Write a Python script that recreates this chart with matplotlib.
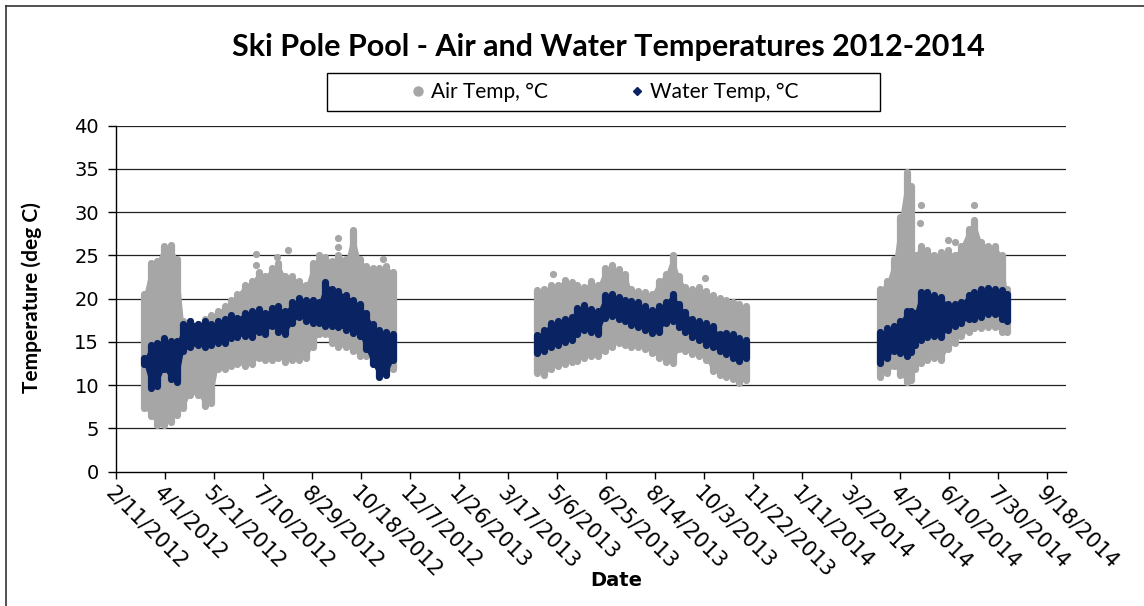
import matplotlib
matplotlib.use("Agg")
import matplotlib.pyplot as plt
import matplotlib.dates as mdates
from matplotlib.lines import Line2D
from matplotlib.patches import Rectangle
import pandas as pd

# ---------------------------------------------------------------- data
# Weekly envelopes of the logged readings (lowest / highest value, deg C)
season1_dates = ["2012-03-11", "2012-03-18", "2012-03-24", "2012-03-31", "2012-04-07",
                 "2012-04-14", "2012-04-20", "2012-04-27", "2012-05-05", "2012-05-12",
                 "2012-05-18", "2012-05-25", "2012-06-01", "2012-06-08", "2012-06-14",
                 "2012-06-22", "2012-06-29", "2012-07-06", "2012-07-12", "2012-07-19",
                 "2012-07-26", "2012-08-02", "2012-08-09", "2012-08-16", "2012-08-23",
                 "2012-08-30", "2012-09-05", "2012-09-12", "2012-09-19", "2012-09-25",
                 "2012-10-03", "2012-10-10", "2012-10-17", "2012-10-23", "2012-10-30",
                 "2012-11-06", "2012-11-13", "2012-11-20"]
season1_air_low = [7.4, 6.4, 5.4, 5.4, 5.7, 6.6, 7.4, 8.9, 8.9, 7.6,
                   7.9, 11.9, 11.9, 12.2, 12.4, 12.2, 12.4, 13.2, 12.9, 12.9,
                   13.2, 12.7, 12.9, 12.9, 13.2, 14.4, 15.9, 15.9, 14.9, 14.4,
                   14.4, 13.9, 13.4, 13.4, 12.9, 12.4, 11.9, 11.9]
season1_air_high = [20.6, 24.1, 24.4, 26.1, 26.2, 24.6, 17.4, 17.4, 17.1, 17.6,
                    18.1, 18.6, 19.1, 19.9, 20.6, 21.6, 22.1, 23.1, 22.6, 23.6,
                    24.1, 22.6, 22.6, 22.1, 21.6, 24.1, 24.6, 24.8, 24.4, 25.1,
                    24.6, 27.9, 24.6, 23.8, 23.6, 23.6, 23.8, 23.1]
season1_water_low = [12.4, 9.7, 9.9, 11.9, 10.7, 10.4, 13.9, 14.4, 14.6, 14.4,
                     14.7, 14.9, 14.9, 15.4, 15.6, 15.7, 15.6, 16.2, 15.9, 16.9,
                     16.2, 15.9, 17.2, 17.9, 17.4, 17.2, 17.2, 16.9, 16.9, 16.7,
                     16.4, 16.0, 15.7, 14.2, 12.4, 10.9, 11.2, 12.9]
season1_water_high = [13.1, 14.6, 14.9, 15.4, 15.1, 15.1, 17.1, 17.4, 17.1, 17.4,
                      17.1, 17.4, 17.6, 18.1, 17.8, 18.4, 18.6, 18.8, 18.4, 18.9,
                      19.1, 18.6, 19.6, 20.1, 19.9, 19.9, 19.6, 21.9, 21.1, 20.9,
                      20.4, 19.9, 19.4, 18.4, 17.1, 16.4, 16.1, 15.9]

season2_dates = ["2013-04-16", "2013-04-23", "2013-04-30", "2013-05-07", "2013-05-14",
                 "2013-05-21", "2013-05-27", "2013-06-03", "2013-06-10", "2013-06-17",
                 "2013-06-24", "2013-07-01", "2013-07-08", "2013-07-15", "2013-07-21",
                 "2013-07-28", "2013-08-04", "2013-08-11", "2013-08-18", "2013-08-25",
                 "2013-09-01", "2013-09-08", "2013-09-14", "2013-09-21", "2013-09-28",
                 "2013-10-05", "2013-10-12", "2013-10-19", "2013-10-26", "2013-11-02",
                 "2013-11-08", "2013-11-15"]
season2_air_low = [11.4, 11.2, 11.9, 12.2, 12.4, 12.7, 12.8, 13.2, 13.4, 13.4,
                   13.9, 14.4, 14.9, 14.7, 14.4, 14.4, 14.2, 13.7, 13.2, 12.7,
                   12.6, 14.2, 13.9, 13.6, 13.4, 12.9, 11.6, 11.2, 11.0, 10.7,
                   10.2, 10.6]
season2_air_high = [21.0, 21.1, 21.6, 21.6, 22.2, 21.9, 21.6, 21.4, 22.0, 21.6,
                    23.6, 23.9, 23.4, 22.9, 21.1, 20.9, 20.8, 20.6, 22.1, 22.9,
                    25.1, 22.6, 21.4, 21.1, 21.4, 20.9, 20.4, 20.1, 19.8, 19.6,
                    19.4, 19.1]
season2_water_low = [13.7, 13.9, 14.4, 14.7, 15.0, 15.2, 15.9, 16.4, 16.2, 15.9,
                     17.8, 18.0, 17.6, 17.4, 17.0, 16.7, 16.4, 16.0, 16.2, 17.2,
                     17.4, 16.7, 16.2, 15.6, 15.2, 14.7, 14.4, 13.9, 13.6, 13.2,
                     12.8, 13.2]
season2_water_high = [15.8, 16.4, 17.2, 17.4, 17.6, 17.9, 18.9, 19.3, 18.8, 18.6,
                      20.4, 20.6, 20.2, 19.9, 19.7, 19.6, 19.1, 18.7, 19.1, 19.6,
                      20.6, 19.4, 18.5, 17.6, 17.4, 17.2, 16.9, 15.9, 16.0, 15.9,
                      15.4, 15.2]

season3_dates = ["2014-04-01", "2014-04-08", "2014-04-15", "2014-04-21", "2014-04-28",
                 "2014-05-02", "2014-05-06", "2014-05-12", "2014-05-19", "2014-05-26",
                 "2014-06-02", "2014-06-09", "2014-06-16", "2014-06-22", "2014-06-30",
                 "2014-07-06", "2014-07-13", "2014-07-20", "2014-07-27", "2014-08-03",
                 "2014-08-08"]
season3_air_low = [10.9, 11.4, 12.2, 11.2, 10.4, 10.6, 11.9, 12.6, 12.9, 13.2,
                   12.9, 14.2, 14.9, 15.7, 16.2, 16.6, 16.6, 16.7, 16.7, 16.2,
                   16.2]
season3_air_high = [21.1, 22.1, 24.6, 29.5, 34.6, 33.0, 25.1, 26.1, 25.6, 25.1,
                    25.4, 25.6, 25.1, 26.1, 28.1, 29.1, 26.6, 26.1, 26.1, 25.1,
                    21.1]
season3_water_low = [12.6, 13.2, 13.9, 13.7, 13.4, 13.8, 14.7, 15.2, 15.6, 15.7,
                     15.6, 16.4, 16.8, 17.2, 17.6, 17.6, 17.9, 18.2, 18.2, 17.7,
                     17.4]
season3_water_high = [16.1, 16.6, 16.9, 17.4, 18.6, 18.6, 18.4, 20.8, 20.8, 20.4,
                      20.2, 19.4, 19.4, 19.6, 20.4, 20.8, 21.1, 21.2, 21.1, 21.0,
                      20.6]

# isolated warm air readings standing above the weekly envelope
air_spike_dates = ["2012-07-03", "2012-07-03", "2012-07-25", "2012-08-05", "2012-09-05",
                   "2012-09-25", "2012-09-25", "2012-11-10", "2013-05-02", "2013-10-04",
                   "2014-05-11", "2014-05-12", "2014-06-09", "2014-06-16", "2014-07-06"]
air_spike_values = [25.2, 23.9, 24.8, 25.6, 25.1,
                    27.0, 26.0, 24.6, 22.9, 22.4,
                    28.8, 30.8, 26.8, 26.6, 30.8]

axis_start = "2012-02-11"
axis_end = "2014-10-07"
tick_step_days = 50
y_ticks = [0, 5, 10, 15, 20, 25, 30, 35, 40]

series_labels = ["Air Temp, \u00b0C", "Water Temp, \u00b0C"]
title_text = "Ski Pole Pool - Air and Water Temperatures 2012-2014"
x_title = "Date"
y_title = "Temperature (deg C)"

AIR_COLOR = "#A6A6A6"
WATER_COLOR = "#0A2463"

# ---------------------------------------------------------------- figure
W, H = 1144, 606
fig = plt.figure(figsize=(W / 100, H / 100), dpi=100)
fig.patch.set_facecolor("white")

left, right, top, bottom = 115.7, 1065.6, 125.7, 471.7
ax = fig.add_axes([left / W, 1 - bottom / H, (right - left) / W, (bottom - top) / H])

MARK_PT = 5.2  # marker diameter in points


def draw_envelope(dates, low, high, color, z):
    x = mdates.date2num(pd.to_datetime(dates))
    ax.fill_between(x, low, high, color=color, lw=0, zorder=z)
    lc = ax.vlines(x, low, high, colors=color, linewidth=MARK_PT, zorder=z)
    lc.set_capstyle("round")


seasons = [
    (season1_dates, season1_air_low, season1_air_high, season1_water_low, season1_water_high),
    (season2_dates, season2_air_low, season2_air_high, season2_water_low, season2_water_high),
    (season3_dates, season3_air_low, season3_air_high, season3_water_low, season3_water_high),
]

for d, alo, ahi, wlo, whi in seasons:
    draw_envelope(d, alo, ahi, AIR_COLOR, 3)

ax.scatter(pd.to_datetime(air_spike_dates), air_spike_values, s=MARK_PT ** 2,
           color=AIR_COLOR, lw=0, zorder=3)

for d, alo, ahi, wlo, whi in seasons:
    draw_envelope(d, wlo, whi, WATER_COLOR, 4)

# ---------------------------------------------------------------- axes
x0 = pd.Timestamp(axis_start)
x1 = pd.Timestamp(axis_end)
ax.set_xlim(x0, x1)
ax.set_ylim(y_ticks[0], y_ticks[-1])

tick_dates = []
t = x0
while t <= x1:
    tick_dates.append(t)
    t = t + pd.Timedelta(days=tick_step_days)
ax.set_xticks(tick_dates)
ax.set_xticklabels([f"{d.month}/{d.day}/{d.year}" for d in tick_dates],
                   rotation=-45, ha="left", va="top", rotation_mode="anchor",
                   fontsize=15, family="DejaVu Sans")
ax.set_yticks(y_ticks)
ax.set_yticklabels([str(v) for v in y_ticks], fontsize=14, family="DejaVu Sans")
ax.tick_params(axis="x", direction="out", length=5, width=1, pad=3, color="black")
ax.tick_params(axis="y", direction="out", length=6, width=1, pad=6, color="black")

for s in ["top", "right"]:
    ax.spines[s].set_visible(False)
for s in ["left", "bottom"]:
    ax.spines[s].set_color("black")
    ax.spines[s].set_linewidth(1.0)

for v in y_ticks[1:]:
    ax.axhline(v, color="#222222", lw=0.9, zorder=1)

ax.set_xlabel(x_title, fontsize=14, fontweight="bold", family="DejaVu Sans", labelpad=0)
ax.xaxis.set_label_coords((616 - left) / (right - left), -(571 - bottom) / (bottom - top))
ax.set_ylabel(y_title, fontsize=15, fontweight="bold", family=["Lato", "DejaVu Sans"])
ax.yaxis.set_label_coords(-(left - 42) / (right - left), (bottom - 298) / (bottom - top))

# ---------------------------------------------------------------- title & legend
fig.text(608 / W, 1 - 47 / H, title_text, ha="center", va="center",
         fontsize=22, fontweight="bold", family=["Lato", "DejaVu Sans"])

fig.patches.append(Rectangle((327 / W, 1 - 111 / H), (880 - 327) / W, (111 - 73) / H,
                             transform=fig.transFigure, fill=False,
                             edgecolor="black", lw=1.0))
handles = [
    Line2D([], [], ls="none", marker="o", markersize=6.5, color=AIR_COLOR),
    Line2D([], [], ls="none", marker="D", markersize=4.5, color=WATER_COLOR),
]
fig.legend(handles, series_labels, loc="center left", bbox_to_anchor=(412 / W, 1 - 92 / H),
           ncol=2, frameon=False, borderpad=0, borderaxespad=0, handlelength=0.6,
           handletextpad=0.3, columnspacing=4.0,
           prop={"family": ["Lato", "DejaVu Sans"], "size": 15})

# outer frame of the chart area
fig.add_artist(Line2D([6 / W, 6 / W], [0, 1 - 6 / H], transform=fig.transFigure,
                      color="#333333", lw=1.2))
fig.add_artist(Line2D([6 / W, 1], [1 - 6 / H, 1 - 6 / H], transform=fig.transFigure,
                      color="#333333", lw=1.2))

fig.savefig("out.png", dpi=100, facecolor="white")
